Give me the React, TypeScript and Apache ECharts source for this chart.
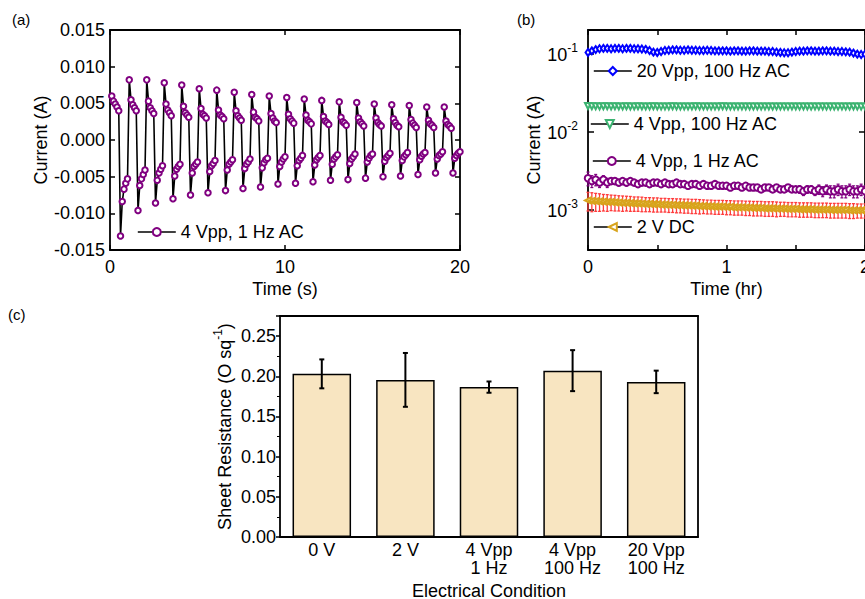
import React, { useEffect, useRef } from 'react';
import * as echarts from 'echarts';

const FONT = '"Liberation Sans", Arial, Helvetica, sans-serif';

// ---------- (a) 4 Vpp, 1 Hz AC, current vs time (s) ----------
const AC_TIME_STEP = 0.1; // s between samples, first sample at 0.1 s
// one row per 1 s cycle: 5 positive-half samples, then 5 negative-half samples
const ac1HzCycles: number[][] = [
  [0.0060, 0.0053, 0.0049, 0.0045, 0.0040, -0.0131, -0.0084, -0.0067, -0.0059, -0.0053],
  [0.0082, 0.0055, 0.0048, 0.0044, 0.0040, -0.0096, -0.0062, -0.0053, -0.0047, -0.0041],
  [0.0082, 0.0053, 0.0044, 0.0040, 0.0036, -0.0086, -0.0055, -0.0045, -0.0040, -0.0035],
  [0.0078, 0.0049, 0.0041, 0.0037, 0.0033, -0.0080, -0.0049, -0.0040, -0.0036, -0.0033],
  [0.0075, 0.0046, 0.0037, 0.0034, 0.0031, -0.0075, -0.0045, -0.0036, -0.0033, -0.0030],
  [0.0070, 0.0043, 0.0035, 0.0033, 0.0030, -0.0072, -0.0043, -0.0035, -0.0032, -0.0028],
  [0.0068, 0.0041, 0.0034, 0.0032, 0.0029, -0.0069, -0.0041, -0.0033, -0.0030, -0.0027],
  [0.0065, 0.0040, 0.0033, 0.0030, 0.0027, -0.0066, -0.0039, -0.0033, -0.0030, -0.0026],
  [0.0062, 0.0038, 0.0031, 0.0029, 0.0026, -0.0064, -0.0038, -0.0031, -0.0027, -0.0025],
  [0.0060, 0.0036, 0.0030, 0.0026, 0.0024, -0.0060, -0.0036, -0.0030, -0.0026, -0.0023],
  [0.0058, 0.0035, 0.0029, 0.0026, 0.0023, -0.0059, -0.0035, -0.0028, -0.0025, -0.0021],
  [0.0056, 0.0034, 0.0027, 0.0025, 0.0022, -0.0057, -0.0034, -0.0027, -0.0024, -0.0021],
  [0.0054, 0.0032, 0.0026, 0.0024, 0.0021, -0.0055, -0.0033, -0.0026, -0.0023, -0.0020],
  [0.0052, 0.0031, 0.0025, 0.0023, 0.0020, -0.0054, -0.0032, -0.0026, -0.0023, -0.0019],
  [0.0051, 0.0030, 0.0025, 0.0022, 0.0019, -0.0052, -0.0030, -0.0025, -0.0021, -0.0019],
  [0.0049, 0.0030, 0.0024, 0.0021, 0.0019, -0.0050, -0.0029, -0.0024, -0.0021, -0.0018],
  [0.0048, 0.0029, 0.0024, 0.0020, 0.0018, -0.0049, -0.0028, -0.0023, -0.0020, -0.0017],
  [0.0047, 0.0028, 0.0023, 0.0020, 0.0017, -0.0047, -0.0027, -0.0022, -0.0019, -0.0017],
  [0.0045, 0.0027, 0.0022, 0.0020, 0.0017, -0.0045, -0.0026, -0.0021, -0.0019, -0.0016],
  [0.0045, 0.0026, 0.0021, 0.0019, 0.0016, -0.0045, -0.0025, -0.0021, -0.0018, -0.0016],
];

// ---------- (b) long-term current (A) vs time (hr) ----------
const LONG_TIME_STEP = 1 / 36; // hr between samples, first at 0
const vpp20Hz100: number[] = [
  0.103, 0.108, 0.112,
  0.115, 0.116, 0.116, 0.115, 0.116, 0.116, 0.115, 0.116, 0.116, 0.115, 0.115, 0.114, 0.113,
  0.109, 0.104, 0.103, 0.106,
  0.109, 0.110, 0.111, 0.111, 0.110, 0.110, 0.111, 0.110, 0.110, 0.109, 0.109, 0.110, 0.109, 0.108, 0.108,
  0.108, 0.108, 0.107, 0.108, 0.108, 0.107, 0.107, 0.108, 0.108, 0.107, 0.107, 0.107, 0.106, 0.106, 0.104, 0.103,
  0.102, 0.102, 0.104, 0.106,
  0.107, 0.107, 0.108, 0.108, 0.107, 0.107, 0.108, 0.108, 0.107, 0.107, 0.106, 0.106, 0.105, 0.104,
  0.101, 0.098, 0.097, 0.098,
];
const vpp4Hz100: number[] = [
  0.0212, 0.0210, 0.0210, 0.0209, 0.0210, 0.0210, 0.0209, 0.0210, 0.0209, 0.0209,
  0.0210, 0.0209, 0.0209, 0.0210, 0.0209, 0.0209, 0.0209, 0.0210, 0.0209, 0.0209,
  0.0209, 0.0209, 0.0210, 0.0209, 0.0209, 0.0209, 0.0209, 0.0209, 0.0210, 0.0209,
  0.0209, 0.0209, 0.0209, 0.0209, 0.0209, 0.0210, 0.0209, 0.0209, 0.0209, 0.0209,
  0.0209, 0.0209, 0.0209, 0.0208, 0.0209, 0.0209, 0.0209, 0.0209, 0.0208, 0.0209,
  0.0209, 0.0209, 0.0208, 0.0209, 0.0209, 0.0208, 0.0209, 0.0209, 0.0208, 0.0209,
  0.0208, 0.0209, 0.0208, 0.0209, 0.0208, 0.0208, 0.0209, 0.0208, 0.0208, 0.0209,
  0.0208, 0.0208, 0.0208,
];
const vpp4Hz1: number[] = [
  0.0025, 0.0023, 0.0024, 0.0022, 0.0024, 0.0022, 0.0023, 0.0023, 0.0022, 0.0023,
  0.0022, 0.0023, 0.0022, 0.0021, 0.0022, 0.0022, 0.0021, 0.0022, 0.0022, 0.0021,
  0.0022, 0.0021, 0.0021, 0.0022, 0.0021, 0.0021, 0.0020, 0.0021, 0.0021, 0.0020,
  0.0021, 0.0020, 0.0020, 0.0021, 0.0020, 0.0020, 0.0020, 0.0019, 0.0020, 0.0020,
  0.0019, 0.0020, 0.0019, 0.0019, 0.0019, 0.0018, 0.0019, 0.0019, 0.0018, 0.0019,
  0.0018, 0.0018, 0.0019, 0.0018, 0.0018, 0.0018, 0.0017, 0.0018, 0.0018, 0.0017,
  0.0018, 0.0017, 0.0018, 0.0017, 0.0017, 0.0018, 0.0017, 0.0017, 0.0018, 0.0017,
  0.0017, 0.0018, 0.0017,
];
const vpp4Hz1Err: number[] = [
  0.0005, 0.0004, 0.0004, 0.0003, 0.0003, 0.0003, 0.0002, 0.0002, 0.0002, 0.0002,
  0.0002, 0.00015, 0.00015, 0.00015, 0.00015, 0.0001, 0.0001, 0.0001, 0.0001, 0.0001,
  0.0001, 0.0001, 0.0001, 0.0001, 0.0001, 0.0001, 0.0001, 0.0001, 0.0001, 0.0001,
  0.0001, 0.0001, 0.0001, 0.0001, 0.0001, 0.0001, 0.0001, 0.0001, 0.0001, 0.0001,
  0.0001, 0.0001, 0.0001, 0.0001, 0.0001, 0.0001, 0.0001, 0.0001, 0.0001, 0.00012,
  0.00012, 0.00015, 0.00015, 0.00015, 0.00015, 0.0002, 0.0002, 0.0002, 0.0002, 0.0002,
  0.00025, 0.00025, 0.00025, 0.0003, 0.0003, 0.0003, 0.0003, 0.0003, 0.0003, 0.0003,
  0.0003, 0.0003, 0.0003,
];
const dc2V: number[] = [
  0.00130, 0.00128, 0.00127, 0.00126, 0.00125, 0.00124, 0.00124, 0.00123, 0.00122, 0.00121,
  0.00121, 0.00120, 0.00119, 0.00119, 0.00118, 0.00117, 0.00117, 0.00116, 0.00116, 0.00115,
  0.00115, 0.00114, 0.00114, 0.00113, 0.00113, 0.00112, 0.00112, 0.00111, 0.00111, 0.00110,
  0.00110, 0.00109, 0.00109, 0.00108, 0.00108, 0.00108, 0.00107, 0.00107, 0.00106, 0.00106,
  0.00106, 0.00105, 0.00105, 0.00104, 0.00104, 0.00104, 0.00103, 0.00103, 0.00103, 0.00102,
  0.00102, 0.00102, 0.00101, 0.00101, 0.00101, 0.00100, 0.00100, 0.00100, 0.00100, 0.00099,
  0.00099, 0.00099, 0.00099, 0.00098, 0.00098, 0.00098, 0.00098, 0.00098, 0.00097, 0.00097,
  0.00097, 0.00097, 0.00097,
];
const dc2VErr: number[] = [
  0.00035, 0.00035, 0.00033, 0.00032, 0.00030, 0.00030, 0.00028, 0.00028, 0.00027, 0.00027,
  0.00026, 0.00026, 0.00025, 0.00025, 0.00025, 0.00024, 0.00024, 0.00024, 0.00024, 0.00023,
  0.00023, 0.00023, 0.00023, 0.00023, 0.00023, 0.00023, 0.00023, 0.00023, 0.00023, 0.00023,
  0.00022, 0.00022, 0.00022, 0.00022, 0.00022, 0.00022, 0.00022, 0.00022, 0.00022, 0.00022,
  0.00022, 0.00022, 0.00022, 0.00022, 0.00022, 0.00022, 0.00022, 0.00022, 0.00022, 0.00022,
  0.00021, 0.00021, 0.00021, 0.00021, 0.00021, 0.00021, 0.00021, 0.00021, 0.00021, 0.00021,
  0.00021, 0.00021, 0.00021, 0.00021, 0.00021, 0.00021, 0.00021, 0.00021, 0.00021, 0.00021,
  0.00020, 0.00020, 0.00020,
];

// ---------- (c) sheet resistance ----------
const conditions = ['0 V', '2 V', '4 Vpp\n1 Hz', '4 Vpp\n100 Hz', '20 Vpp\n100 Hz'];
const sheetRes = [0.203, 0.1955, 0.1865, 0.207, 0.193];
const sheetResErr = [0.018, 0.0335, 0.007, 0.0255, 0.014];

const NAME_20 = '20 Vpp, 100 Hz AC';
const NAME_4_100 = '4 Vpp, 100 Hz AC';
const NAME_4_1 = '4 Vpp, 1 Hz AC';
const NAME_DC = '2 V DC';

const BLUE = '#0000FF';
const GREEN = '#3CB371';
const PURPLE = '#800080';
const GOLD = '#D8A41C';
const RED = '#FF3C3C';

const TXT = { fontFamily: FONT, color: '#000', fontSize: 18 };
const AXLINE = { show: true, onZero: false, lineStyle: { color: '#000', width: 1.8 } };
const TICK_IN = { show: true, inside: true, length: 5, lineStyle: { color: '#000', width: 1.5 } };

function errorBarRender(color: string, capHalf: number, lineWidth: number) {
  return (_params: any, api: any) => {
    const x = api.value(0);
    const lo = api.value(1);
    const hi = api.value(2);
    const a = api.coord([x, lo]);
    const b = api.coord([x, hi]);
    const style = { stroke: color, lineWidth };
    return {
      type: 'group',
      children: [
        { type: 'line', shape: { x1: a[0], y1: a[1], x2: b[0], y2: b[1] }, style },
        { type: 'line', shape: { x1: a[0] - capHalf, y1: a[1], x2: a[0] + capHalf, y2: a[1] }, style },
        { type: 'line', shape: { x1: b[0] - capHalf, y1: b[1], x2: b[0] + capHalf, y2: b[1] }, style },
      ],
    };
  };
}

function legendAt(name: string, left: number, top: number) {
  return {
    data: [name],
    left,
    top,
    padding: 0,
    itemWidth: 38,
    itemHeight: 10,
    selectedMode: false,
    textStyle: { ...TXT },
    lineStyle: { color: '#000', width: 1.6, opacity: 1, type: 'solid' },
  };
}

function buildOption() {
  const aData = ac1HzCycles.flat().map((v, i) => [(i + 1) * AC_TIME_STEP, v]);
  const bPoints = (vals: number[]) => vals.map((v, i) => [i * LONG_TIME_STEP, v]);
  const bErr = (vals: number[], errs: number[]) =>
    vals.map((v, i) => [i * LONG_TIME_STEP, v - errs[i], v + errs[i]]);
  const cErr = sheetRes.map((v, i) => [i, v - sheetResErr[i], v + sheetResErr[i]]);

  const logLabel = (v: number) => {
    const e = Math.round(Math.log10(v));
    return `{b|10}{sup|${e}}`;
  };

  return {
    animation: false,
    backgroundColor: '#fff',
    textStyle: { fontFamily: FONT },
    grid: [
      { left: 110, top: 30, width: 350, height: 220, outerBoundsMode: 'none' },
      { left: 588, top: 30, width: 277, height: 220, outerBoundsMode: 'none' },
      { left: 280, top: 316, width: 418, height: 221, outerBoundsMode: 'none' },
    ],
    xAxis: [
      {
        type: 'value', gridIndex: 0, min: 0, max: 20, interval: 10,
        axisLine: AXLINE, axisTick: TICK_IN, splitLine: { show: false },
        axisLabel: { ...TXT, margin: 8 },
        name: 'Time (s)', nameLocation: 'middle', nameGap: 30, nameTextStyle: { ...TXT },
      },
      {
        type: 'value', gridIndex: 0, position: 'top', min: 0, max: 20, interval: 10,
        axisLine: AXLINE, axisTick: TICK_IN, splitLine: { show: false }, axisLabel: { show: false },
      },
      {
        type: 'value', gridIndex: 1, min: 0, max: 2, interval: 0.5,
        axisLine: AXLINE, axisTick: TICK_IN, splitLine: { show: false },
        axisLabel: {
          ...TXT, margin: 8,
          formatter: (v: number) => (Math.abs(v - Math.round(v)) < 1e-6 ? String(Math.round(v)) : ''),
        },
        name: 'Time (hr)', nameLocation: 'middle', nameGap: 30, nameTextStyle: { ...TXT },
      },
      {
        type: 'value', gridIndex: 1, position: 'top', min: 0, max: 2, interval: 0.5,
        axisLine: AXLINE, axisTick: TICK_IN, splitLine: { show: false }, axisLabel: { show: false },
      },
      {
        type: 'category', gridIndex: 2, data: conditions,
        axisLine: AXLINE,
        axisTick: { ...TICK_IN, alignWithLabel: true, length: 4 },
        splitLine: { show: false },
        axisLabel: { ...TXT, margin: 4, lineHeight: 18, interval: 0 },
        name: 'Electrical Condition', nameLocation: 'middle', nameGap: 45, nameTextStyle: { ...TXT },
      },
      {
        type: 'value', gridIndex: 2, position: 'top', min: 0, max: 1,
        axisLine: AXLINE, axisTick: { show: false }, splitLine: { show: false }, axisLabel: { show: false },
      },
    ],
    yAxis: [
      {
        type: 'value', gridIndex: 0, min: -0.015, max: 0.015, interval: 0.005,
        axisLine: AXLINE, axisTick: TICK_IN, splitLine: { show: false },
        axisLabel: {
          ...TXT, margin: 5,
          formatter: (v: number) => (Math.abs(v) < 1e-9 ? '0.000' : v.toFixed(3)),
        },
        name: 'Current (A)', nameLocation: 'middle', nameGap: 58, nameRotate: 90, nameTextStyle: { ...TXT },
      },
      {
        type: 'value', gridIndex: 0, position: 'right', min: -0.015, max: 0.015, interval: 0.005,
        axisLine: AXLINE, axisTick: TICK_IN, splitLine: { show: false }, axisLabel: { show: false },
      },
      {
        type: 'log', logBase: 10, gridIndex: 1, min: 0.0003, max: 0.2,
        axisLine: AXLINE, axisTick: { ...TICK_IN, length: 6 }, splitLine: { show: false },
        axisLabel: {
          ...TXT, margin: 10, showMinLabel: false, showMaxLabel: false,
          formatter: logLabel,
          rich: {
            b: { fontFamily: FONT, fontSize: 18, color: '#000', lineHeight: 22, verticalAlign: 'bottom' },
            sup: { fontFamily: FONT, fontSize: 12, color: '#000', lineHeight: 12, verticalAlign: 'top' },
          },
        },
        name: 'Current (A)', nameLocation: 'middle', nameGap: 38, nameRotate: 90, nameTextStyle: { ...TXT },
      },
      {
        type: 'log', logBase: 10, gridIndex: 1, position: 'right', min: 0.0003, max: 0.2,
        axisLine: AXLINE, axisTick: { ...TICK_IN, length: 6 }, splitLine: { show: false }, axisLabel: { show: false },
      },
      {
        type: 'value', gridIndex: 2, min: 0, max: 0.275, interval: 0.05,
        axisLine: AXLINE,
        axisTick: { show: true, inside: false, length: 4, lineStyle: { color: '#000', width: 1.5 } },
        minorTick: { show: true, splitNumber: 2, length: 3, lineStyle: { color: '#000', width: 1 } },
        splitLine: { show: false },
        axisLabel: {
          ...TXT, margin: 4, showMaxLabel: false,
          formatter: (v: number) => v.toFixed(2),
        },
        name: '{b|Sheet Resistance (O sq}{sup|-1}{b|)}',
        nameLocation: 'middle', nameGap: 46, nameRotate: 90,
        nameTextStyle: {
          ...TXT,
          rich: {
            b: { fontFamily: FONT, fontSize: 18, color: '#000', lineHeight: 22, verticalAlign: 'bottom' },
            sup: { fontFamily: FONT, fontSize: 12, color: '#000', lineHeight: 12, verticalAlign: 'top' },
          },
        },
      },
      {
        type: 'value', gridIndex: 2, position: 'right', min: 0, max: 1,
        axisLine: AXLINE, axisTick: { show: false }, splitLine: { show: false }, axisLabel: { show: false },
      },
    ],
    legend: [
      legendAt(NAME_4_1, 137, 223),
      legendAt(NAME_20, 593, 62),
      legendAt(NAME_4_100, 590, 115),
      legendAt(NAME_4_1, 592, 152),
      legendAt(NAME_DC, 593, 218),
    ],
    graphic: [
      { type: 'text', left: 12, top: 12, style: { text: '(a)', fontFamily: FONT, fontSize: 15, fill: '#000' } },
      { type: 'text', left: 517, top: 12, style: { text: '(b)', fontFamily: FONT, fontSize: 15, fill: '#000' } },
      { type: 'text', left: 8, top: 307, style: { text: '(c)', fontFamily: FONT, fontSize: 15, fill: '#000' } },
    ],
    series: [
      // (a)
      {
        name: NAME_4_1, type: 'line', xAxisIndex: 0, yAxisIndex: 0, data: aData,
        symbol: 'emptyCircle', symbolSize: 5.5, showAllSymbol: true,
        itemStyle: { color: PURPLE, borderWidth: 1.5 },
        lineStyle: { color: '#000', width: 1.6 },
        z: 3, silent: true,
      },
      // (b)
      {
        name: NAME_20, type: 'line', xAxisIndex: 2, yAxisIndex: 2, data: bPoints(vpp20Hz100),
        symbol: 'emptyDiamond', symbolSize: [5, 7], showAllSymbol: true,
        itemStyle: { color: BLUE, borderWidth: 1.2 },
        lineStyle: { width: 0, opacity: 0 }, silent: true, z: 3,
      },
      {
        name: NAME_4_100, type: 'line', xAxisIndex: 2, yAxisIndex: 2, data: bPoints(vpp4Hz100),
        symbol: 'emptyTriangle', symbolRotate: 180, symbolSize: 6, showAllSymbol: true,
        itemStyle: { color: GREEN, borderWidth: 1.2 },
        lineStyle: { width: 0, opacity: 0 }, silent: true, z: 3,
      },
      {
        name: 'err-1hz', type: 'custom', xAxisIndex: 2, yAxisIndex: 2,
        data: bErr(vpp4Hz1, vpp4Hz1Err), encode: { x: 0, y: [1, 2] },
        renderItem: errorBarRender(PURPLE, 1.5, 1.2), silent: true, z: 2,
      },
      {
        name: NAME_4_1, type: 'line', xAxisIndex: 2, yAxisIndex: 2, data: bPoints(vpp4Hz1),
        symbol: 'emptyCircle', symbolSize: 6.5, showAllSymbol: true,
        itemStyle: { color: PURPLE, borderWidth: 1.3 },
        lineStyle: { width: 0, opacity: 0 }, silent: true, z: 3,
      },
      {
        name: 'err-dc', type: 'custom', xAxisIndex: 2, yAxisIndex: 2,
        data: bErr(dc2V, dc2VErr), encode: { x: 0, y: [1, 2] },
        renderItem: errorBarRender(RED, 1.5, 1.3), silent: true, z: 2,
      },
      {
        name: NAME_DC, type: 'line', xAxisIndex: 2, yAxisIndex: 2, data: bPoints(dc2V),
        symbol: 'emptyTriangle', symbolRotate: 90, symbolSize: 6, showAllSymbol: true,
        itemStyle: { color: GOLD, borderWidth: 1.2 },
        lineStyle: { width: 0, opacity: 0 }, silent: true, z: 3,
      },
      // (c)
      {
        name: 'Sheet Resistance', type: 'bar', xAxisIndex: 4, yAxisIndex: 4, data: sheetRes,
        barCategoryGap: '30%',
        itemStyle: { color: '#F8E5C1', borderColor: '#000', borderWidth: 1.5 },
        silent: true, z: 2,
      },
      {
        name: 'err-rs', type: 'custom', xAxisIndex: 4, yAxisIndex: 4,
        data: cErr, encode: { x: 0, y: [1, 2] },
        renderItem: errorBarRender('#000', 2.5, 2), silent: true, z: 3,
      },
    ],
  };
}

export default function App() {
  const ref = useRef<HTMLDivElement>(null);
  useEffect(() => {
    document.body.style.margin = '0';
    if (!ref.current) return;
    const chart = echarts.init(ref.current, null, { renderer: 'svg' });
    chart.setOption(buildOption() as any);
    return () => chart.dispose();
  }, []);
  return <div ref={ref} style={{ width: 865, height: 599 }} />;
}
